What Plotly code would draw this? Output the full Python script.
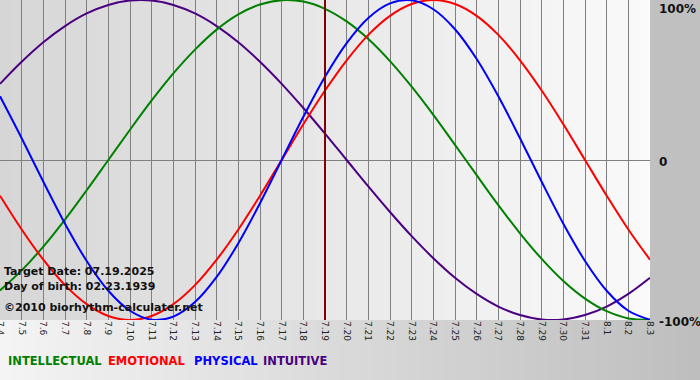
import plotly.graph_objects as go

# ---- data ----
dates = ["7.4", "7.5", "7.6", "7.7", "7.8", "7.9", "7.10", "7.11", "7.12", "7.13",
         "7.14", "7.15", "7.16", "7.17", "7.18", "7.19", "7.20", "7.21", "7.22", "7.23",
         "7.24", "7.25", "7.26", "7.27", "7.28", "7.29", "7.30", "7.31", "8.1", "8.2", "8.3"]

physical = [0.398, 0.136, -0.136, -0.398, -0.631, -0.817, -0.942, -0.998, -0.979, -0.888,
            -0.731, -0.520, -0.270, 0.000, 0.270, 0.520, 0.731, 0.888, 0.979, 0.998,
            0.942, 0.817, 0.631, 0.398, 0.136, -0.136, -0.398, -0.631, -0.817, -0.942, -0.998]

emotional = [-0.223, -0.434, -0.623, -0.782, -0.901, -0.975, -1.000, -0.975, -0.901, -0.782,
             -0.623, -0.434, -0.223, 0.000, 0.223, 0.434, 0.623, 0.782, 0.901, 0.975,
             1.000, 0.975, 0.901, 0.782, 0.623, 0.434, 0.223, 0.000, -0.223, -0.434, -0.623]

intellectual = [-0.815, -0.690, -0.541, -0.372, -0.189, 0.000, 0.189, 0.372, 0.541, 0.690,
                0.815, 0.910, 0.972, 0.999, 0.990, 0.945, 0.866, 0.756, 0.618, 0.458,
                0.282, 0.095, -0.095, -0.282, -0.458, -0.618, -0.756, -0.866, -0.945, -0.990, -0.999]

intuitive = [0.476, 0.614, 0.736, 0.837, 0.916, 0.969, 0.997, 0.997, 0.969, 0.916,
             0.837, 0.736, 0.614, 0.476, 0.325, 0.165, 0.000, -0.165, -0.325, -0.476,
             -0.614, -0.736, -0.837, -0.916, -0.969, -0.997, -0.997, -0.969, -0.916, -0.837, -0.736]

target_date = "7.19"
y_tick_vals = [1, 0, -1]
y_tick_text = ["100%", "0", "-100%"]

legend_names = ["INTELLECTUAL", "EMOTIONAL", "PHYSICAL", "INTUITIVE"]
info_lines = ["Target Date: 07.19.2025", "Day of birth: 02.23.1939", "\u00a92010 biorhythm-calculater.net"]

# ---- styling ----
W, H = 700, 380
ML, MR, MT, MB = 0, 50, 0, 60
PW, PH = W - ML - MR, H - MT - MB
colors = {"INTELLECTUAL": "#008000", "EMOTIONAL": "#ff0000",
          "PHYSICAL": "#0000ff", "INTUITIVE": "#4b0082"}
series = {"INTELLECTUAL": intellectual, "EMOTIONAL": emotional,
          "PHYSICAL": physical, "INTUITIVE": intuitive}
FONT = "DejaVu Sans"

fig = go.Figure()
for name in ["INTUITIVE", "INTELLECTUAL", "EMOTIONAL", "PHYSICAL"]:
    fig.add_trace(go.Scatter(x=dates, y=series[name], mode="lines",
                             line=dict(color=colors[name], width=2, shape="spline", smoothing=1.0),
                             showlegend=False, hoverinfo="skip", cliponaxis=False))

shapes = []

def hexgray(v):
    v = max(0, min(255, int(round(v))))
    return "#%02x%02x%02x" % (v, v, v)

def px2x(p):
    return (p - ML) / PW

def py2y(p):
    return (H - MB - p) / PH

# plot area gradient (left darker -> right near white)
N = 60
for i in range(N):
    x0 = i / N
    x1 = (i + 1) / N + 0.002
    g = 214 + (250 - 214) * (i + 0.5) / N
    shapes.append(dict(type="rect", xref="paper", yref="paper", x0=x0, x1=min(x1, 1), y0=0, y1=1,
                       fillcolor=hexgray(g), line=dict(width=0), layer="below"))
# right margin
shapes.append(dict(type="rect", xref="paper", yref="paper", x0=1, x1=px2x(W) + 0.01,
                   y0=0, y1=1.01, fillcolor="#c0c0c0", line=dict(width=0), layer="below"))
# bottom band gradient
NB = 60
for i in range(NB):
    p0 = W * i / NB
    p1 = W * (i + 1) / NB + 1
    g = 244 + (190 - 244) * (i + 0.5) / NB
    shapes.append(dict(type="rect", xref="paper", yref="paper", x0=px2x(p0), x1=px2x(p1),
                       y0=py2y(H) - 0.01, y1=0, fillcolor=hexgray(g), line=dict(width=0), layer="below"))

# target date line
ti = dates.index(target_date)
shapes.append(dict(type="line", xref="x", yref="paper", x0=ti, x1=ti, y0=0, y1=1,
                   line=dict(color="#800000", width=2), layer="above"))

annotations = []
# y tick labels on right
for v, t in zip(y_tick_vals, y_tick_text):
    annotations.append(dict(xref="paper", yref="y", x=1, y=v, xanchor="left",
                            yanchor="top" if v == 1 else "middle",
                            xshift=7, yshift=0 if v == 1 else -2, text=t, showarrow=False,
                            font=dict(family=FONT, size=12, color="#111111", weight="bold")))

# info lines
for txt, ypix in zip(info_lines, [271, 286, 307]):
    annotations.append(dict(xref="paper", yref="paper", x=px2x(2), y=py2y(ypix), xanchor="left",
                            yanchor="middle", text=txt, showarrow=False,
                            font=dict(family=FONT, size=11, color="#111111", weight="bold")))

# legend words
for name, xpix in zip(legend_names, [6, 106, 192, 261]):
    annotations.append(dict(xref="paper", yref="paper", x=px2x(xpix), y=py2y(361), xanchor="left",
                            yanchor="middle", text=name, showarrow=False,
                            font=dict(family=FONT, size=11.5, color=colors[name], weight="bold")))

fig.update_layout(
    width=W, height=H,
    margin=dict(l=ML, r=MR, t=MT, b=MB, pad=0, autoexpand=False),
    paper_bgcolor="#d8d8d8",
    plot_bgcolor="rgba(0,0,0,0)",
    shapes=shapes,
    annotations=annotations,
    showlegend=False,
    xaxis=dict(type="category", categoryorder="array", categoryarray=dates,
               range=[0, len(dates) - 1], showgrid=True, gridcolor="#808080", gridwidth=1,
               tickangle=90, ticks="", tickfont=dict(family=FONT, size=9, color="#222222"),
               zeroline=False, showline=False, fixedrange=True, automargin=False),
    yaxis=dict(range=[-1, 1], tickvals=y_tick_vals, showticklabels=False, showgrid=True,
               gridcolor="#808080", gridwidth=1, zeroline=False, ticks="", fixedrange=True,
               automargin=False),
)

fig.write_html("out.html", config={"displayModeBar": False},
               post_script="document.body.style.margin='0';document.body.style.overflow='hidden';")
